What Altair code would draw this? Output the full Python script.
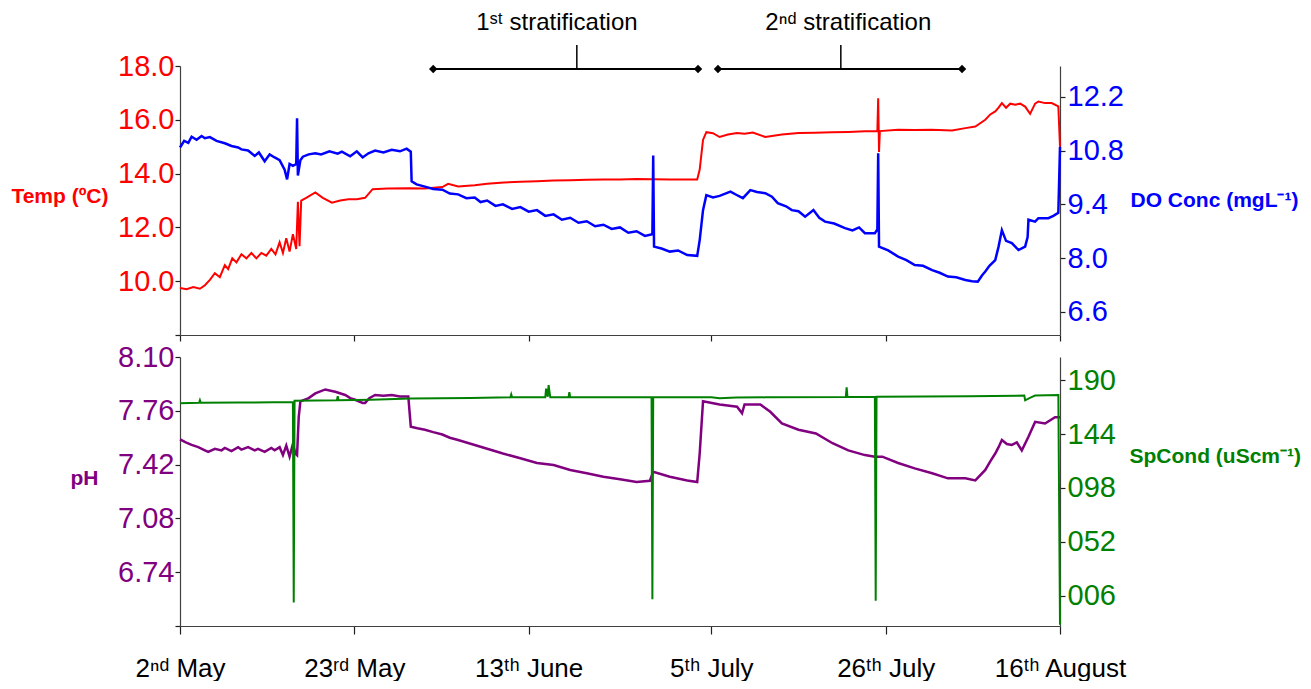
import altair as alt
import pandas as pd

# x positions are days counted from 2 May
tick_days = [0, 21, 42, 64, 85, 106]
tick_labels = ["2ⁿᵈ May", "23ʳᵈ May", "13ᵗʰ June", "5ᵗʰ July", "26ᵗʰ July", "16ᵗʰ August"]

# Water temperature (ºC)
temp_days = [0, 0.8, 1.6, 2.4, 3.0, 3.6, 4.2, 4.8, 5.4, 5.8, 6.3, 6.8, 7.4, 8.0, 8.6, 9.2, 9.8,
             10.4, 11.0, 11.5, 12.0, 12.4, 12.8, 13.2, 13.6, 14.0, 14.2, 14.4, 14.6, 15.2, 16.3,
             17.2, 18.3, 19.3, 20.3, 21.3, 22.3, 23.2, 25.0, 27.5, 29.5, 31.6, 32.3, 33.5, 35.5,
             37.0, 39.0, 41.0, 43.0, 45.0, 47.0, 49.0, 51.0, 53.0, 55.0, 57.0, 59.0, 61.0, 62.3,
             62.6, 63.0, 63.4, 64.2, 65.0, 66.0, 67.1, 68.0, 69.0, 70.5, 72.5, 74.5, 76.5, 78.5,
             80.5, 82.5, 84.0, 84.1, 84.2, 84.3, 86.5, 88.5, 90.5, 93.0, 94.6, 95.8, 97.0, 97.6,
             98.2, 98.6, 99.0, 99.5, 100.0, 100.6, 101.2, 101.8, 102.4, 103.0, 103.4, 104.2,
             105.0, 105.8, 106.0]
temp_vals = [9.75, 9.70, 9.78, 9.72, 9.85, 10.05, 10.30, 10.15, 10.60, 10.45, 10.85, 10.70,
             11.00, 10.85, 11.05, 10.85, 11.05, 10.95, 11.20, 11.00, 11.45, 11.05, 11.60, 11.10,
             11.75, 11.20, 12.95, 11.30, 13.00, 13.10, 13.30, 13.10, 12.92, 13.00, 13.05, 13.05,
             13.10, 13.42, 13.45, 13.46, 13.45, 13.50, 13.62, 13.52, 13.57, 13.62, 13.67, 13.70,
             13.72, 13.74, 13.75, 13.77, 13.78, 13.78, 13.80, 13.79, 13.78, 13.78, 13.78, 14.15,
             15.25, 15.54, 15.50, 15.36, 15.45, 15.51, 15.48, 15.53, 15.36, 15.45, 15.51, 15.52,
             15.54, 15.55, 15.57, 15.58, 16.80, 14.80, 15.58, 15.63, 15.62, 15.63, 15.60, 15.69,
             15.75, 16.00, 16.20, 16.31, 16.45, 16.62, 16.45, 16.60, 16.56, 16.60, 16.49, 16.22,
             16.60, 16.68, 16.62, 16.62, 16.50, 15.00]

# Dissolved oxygen (mg/L), (day, value)
do_points = [
    (0, 10.88), (0.5, 11.05), (1.0, 11.00), (1.4, 11.16), (2.0, 11.08), (2.6, 11.18),
    (3.0, 11.12), (3.6, 11.15), (4.4, 11.05), (5.4, 10.99), (6.2, 10.92), (7.0, 10.88),
    (7.4, 10.83), (8.2, 10.80), (9.0, 10.66), (9.5, 10.75), (10.2, 10.52), (10.8, 10.70),
    (11.4, 10.62), (12.0, 10.55), (12.6, 10.30), (12.9, 10.05), (13.2, 10.45), (13.6, 10.40),
    (14.0, 10.45), (14.1, 11.64), (14.2, 10.15), (14.5, 10.55), (14.8, 10.64), (15.5, 10.70),
    (16.3, 10.73), (17.0, 10.70), (18.0, 10.78), (19.0, 10.72), (19.5, 10.77), (20.5, 10.65),
    (21.3, 10.78), (22.0, 10.62), (22.7, 10.73), (23.5, 10.80), (24.5, 10.75), (25.5, 10.82),
    (26.5, 10.78), (27.3, 10.85), (27.8, 10.77),
    (27.9, 10.00), (28.5, 9.92), (29.5, 9.86), (30.5, 9.80), (31.6, 9.78), (32.5, 9.68),
    (33.5, 9.66), (34.5, 9.56), (35.5, 9.58), (36.2, 9.46), (37.0, 9.50), (38.0, 9.36),
    (38.9, 9.40), (40.0, 9.28), (41.0, 9.33), (42.0, 9.21), (43.0, 9.25), (44.0, 9.10),
    (45.0, 9.14), (46.0, 9.00), (47.0, 9.05), (48.0, 8.92), (49.0, 8.96), (50.0, 8.83),
    (51.0, 8.87), (52.0, 8.76), (53.0, 8.80), (54.0, 8.66), (55.0, 8.70), (56.0, 8.58),
    (56.9, 8.62),
    (57.0, 10.67), (57.1, 8.30), (58.0, 8.25), (59.0, 8.17), (60.0, 8.20), (61.1, 8.08),
    (62.3, 8.06), (62.6, 8.47), (63.0, 9.25), (63.4, 9.64), (64.2, 9.58), (65.0, 9.62),
    (66.3, 9.73), (67.0, 9.65), (67.8, 9.56), (68.7, 9.77), (69.5, 9.72), (70.5, 9.69),
    (71.3, 9.60), (72.0, 9.43), (73.0, 9.35), (73.7, 9.25), (74.5, 9.22), (75.3, 9.08),
    (76.3, 9.25), (77.0, 9.05), (77.7, 8.95), (78.8, 8.90), (80.1, 8.78), (81.0, 8.72),
    (81.8, 8.80), (82.5, 8.65), (83.7, 8.65), (84.0, 8.75), (84.1, 10.73), (84.2, 8.30),
    (85.3, 8.20), (86.5, 8.04), (87.5, 7.95), (88.5, 7.82), (89.5, 7.80), (90.6, 7.69),
    (91.5, 7.62), (92.5, 7.52), (93.5, 7.50), (94.6, 7.43), (95.4, 7.40), (96.1, 7.39),
    (96.6, 7.55), (97.0, 7.65), (97.5, 7.80), (98.2, 7.95), (98.6, 8.30), (99.0, 8.73),
    (99.5, 8.45), (100.2, 8.39), (101.0, 8.21), (101.8, 8.30), (102.1, 8.55), (102.2, 9.00),
    (103.0, 8.95), (103.4, 9.04), (104.6, 9.04), (105.2, 9.10), (105.8, 9.18), (106.0, 10.90),
]

# pH
ph_days = [0, 0.7, 1.4, 2.2, 3.0, 3.4, 4.2, 5.0, 5.4, 6.2, 7.0, 7.4, 8.2, 9.0, 9.4, 10.2, 11.0,
           11.4, 12.0, 12.4, 12.8, 13.2, 13.6, 13.9, 14.1, 14.3, 14.5, 15.5, 16.3, 17.5, 18.7,
           19.9, 20.5, 21.1, 22.0, 22.3, 22.8, 23.5, 24.5, 25.5, 26.5, 27.5, 27.8, 28.6, 29.5,
           30.5, 31.6, 32.5, 33.5, 34.5, 35.5, 37.0, 38.9, 41.0, 43.0, 45.0, 47.0, 49.0, 51.0,
           53.0, 55.0, 56.6, 57.0, 59.0, 61.1, 62.3, 62.6, 63.0, 65.0, 67.1, 67.7, 68.0, 69.9,
           71.1, 72.5, 74.5, 76.6, 78.6, 80.5, 82.5, 83.7, 84.6, 86.5, 88.5, 90.6, 92.5, 94.6,
           95.8, 97.0, 97.6, 98.2, 98.6, 99.0, 99.6, 100.2, 100.8, 101.4, 102.2, 103.0, 104.2,
           105.4, 106.0]
ph_vals = [7.58, 7.56, 7.545, 7.53, 7.51, 7.50, 7.52, 7.51, 7.525, 7.505, 7.53, 7.515, 7.53,
           7.51, 7.52, 7.50, 7.525, 7.51, 7.53, 7.48, 7.54, 7.47, 7.55, 7.49, 7.48, 7.72, 7.82,
           7.84, 7.87, 7.895, 7.88, 7.86, 7.84, 7.83, 7.81, 7.81, 7.84, 7.86, 7.855, 7.86, 7.85,
           7.85, 7.66, 7.65, 7.64, 7.625, 7.61, 7.59, 7.575, 7.56, 7.544, 7.52, 7.49, 7.46,
           7.43, 7.417, 7.386, 7.365, 7.343, 7.327, 7.31, 7.318, 7.375, 7.343, 7.32, 7.31,
           7.49, 7.82, 7.80, 7.786, 7.744, 7.80, 7.80, 7.754, 7.68, 7.64, 7.617, 7.555, 7.51,
           7.48, 7.47, 7.47, 7.43, 7.396, 7.365, 7.333, 7.333, 7.32, 7.386, 7.44, 7.49, 7.53,
           7.575, 7.55, 7.544, 7.56, 7.51, 7.596, 7.69, 7.68, 7.72, 7.72]

# Specific conductance (uS/cm)
sc_days = [0, 2.3, 2.4, 2.5, 7.0, 13.6, 13.7, 13.8, 18.9, 19.0, 19.1, 23.0, 27.8, 35.0, 39.8,
           39.9, 40.0, 44.0, 44.1, 44.3, 44.4, 44.6, 46.8, 46.9, 47.0, 56.8, 56.9, 57.0, 64.0,
           65.0, 67.0, 70.5, 80.2, 80.3, 80.4, 83.7, 83.8, 83.9, 95.0, 101.7, 101.8, 102.5,
           103.0, 105.8, 106.0]
sc_vals = [170.5, 170.8, 173.0, 170.8, 171.0, 171.5, 0.0, 172.5, 173.0, 176.5, 173.0, 173.5,
           174.5, 175.0, 175.5, 178.0, 175.5, 175.5, 183.0, 176.0, 186.0, 175.5, 175.5, 180.0,
           175.5, 175.5, 2.8, 175.5, 175.5, 174.7, 175.3, 175.5, 175.8, 184.0, 175.8, 176.0,
           1.6, 176.0, 176.5, 177.0, 173.0, 175.5, 177.0, 177.5, -19.0]

# Stratification periods (days) and where each caption sits
strat_labels = ["1ˢᵗ stratification", "2ⁿᵈ stratification"]
strat_start = [30.5, 64.8]
strat_end = [62.4, 94.2]
strat_mid = [47.8, 79.6]
strat_caption_day = [45.4, 80.5]

RED, BLUE, PURPLE, GREEN = "#ff0000", "#0000ff", "#800080", "#008000"
FONT = "Liberation Sans, Arial, sans-serif"
W, H = 880, 269

temp_df = pd.DataFrame({"day": temp_days, "v": temp_vals})
do_df = pd.DataFrame(do_points, columns=["day", "v"])
ph_df = pd.DataFrame({"day": ph_days, "v": ph_vals})
sc_df = pd.DataFrame({"day": sc_days, "v": sc_vals})
strat_df = pd.DataFrame({"label": strat_labels, "start": strat_start, "end": strat_end,
                         "mid": strat_mid, "cap": strat_caption_day})
ends_df = pd.DataFrame({"day": strat_start + strat_end})

xscale = alt.Scale(domain=[0, 106], nice=False, zero=False)
label_expr = ("[" + ", ".join("'%s'" % s for s in tick_labels) + "][indexof(["
              + ", ".join(str(d) for d in tick_days) + "], datum.value)]")

axis_common = dict(grid=False, domainColor="#404040", tickColor="#202020", domainWidth=1.2,
                   tickWidth=1.2, labelFont=FONT, labelFontSize=29, titleFont=FONT,
                   titleFontSize=21, titleFontWeight="bold", titleAngle=0,
                   titleBaseline="middle", labelOverlap=False)

top_x_axis = alt.Axis(values=tick_days, labels=False, tickSize=6, title=None, grid=False,
                      domainColor="#404040", tickColor="#202020", domainWidth=1.2, tickWidth=1.2)
bot_x_axis = alt.Axis(values=tick_days, labelExpr=label_expr, tickSize=8, title=None, grid=False,
                      domainColor="#404040", tickColor="#202020", domainWidth=1.2, tickWidth=1.2,
                      labelFont=FONT, labelFontSize=26, labelColor="black", labelPadding=21,
                      labelOverlap=False, labelFlush=False)


def xenc(field, axis):
    return alt.X(field, type="quantitative", scale=xscale, axis=axis)


temp_line = alt.Chart(temp_df).mark_line(color=RED, strokeWidth=2.0).encode(
    x=xenc("day", top_x_axis),
    y=alt.Y("v:Q", scale=alt.Scale(domain=[8, 18], nice=False, zero=False),
            axis=alt.Axis(orient="left", values=[8, 10, 12, 14, 16, 18],
                          labelExpr="datum.value == 8 ? '' : format(datum.value, '.1f')",
                          labelColor=RED, tickSize=5, labelPadding=1,
                          title="Temp (ºC)", titleColor=RED, titleAlign="right",
                          titleX=-72, titleY=130, **axis_common)),
)
do_line = alt.Chart(do_df).mark_line(color=BLUE, strokeWidth=2.5).encode(
    x=xenc("day", top_x_axis),
    y=alt.Y("v:Q", scale=alt.Scale(domain=[6, 13], nice=False, zero=False),
            axis=alt.Axis(orient="right", values=[6.6, 8.0, 9.4, 10.8, 12.2], format=".1f",
                          labelColor=BLUE, tickSize=5, labelPadding=2,
                          title="DO Conc (mgL⁻¹)", titleColor=BLUE, titleAlign="left",
                          titleX=70, titleY=134, **axis_common)),
)

bracket = alt.Chart(strat_df).mark_rule(color="black", strokeWidth=2).encode(
    x=xenc("start", top_x_axis), x2="end:Q", y=alt.value(3))
bracket_tick = alt.Chart(strat_df).mark_rule(color="black", strokeWidth=1.5).encode(
    x=xenc("mid", top_x_axis), y=alt.value(-21), y2=alt.value(3))
bracket_ends = alt.Chart(ends_df).mark_point(shape="diamond", filled=True, color="black",
                                             size=70, opacity=1).encode(
    x=xenc("day", top_x_axis), y=alt.value(3))
bracket_text = alt.Chart(strat_df).mark_text(font=FONT, fontSize=24, color="black",
                                             baseline="middle", align="center").encode(
    x=xenc("cap", top_x_axis), y=alt.value(-43), text="label:N")

top = alt.layer(temp_line, do_line, bracket, bracket_tick, bracket_ends, bracket_text).resolve_scale(
    y="independent").properties(width=W, height=H)

ph_line = alt.Chart(ph_df).mark_line(color=PURPLE, strokeWidth=2.5).encode(
    x=xenc("day", bot_x_axis),
    y=alt.Y("v:Q", scale=alt.Scale(domain=[6.40, 8.10], nice=False, zero=False),
            axis=alt.Axis(orient="left", values=[6.40, 6.74, 7.08, 7.42, 7.76, 8.10],
                          labelExpr="datum.value < 6.5 ? '' : format(datum.value, '.2f')",
                          labelColor=PURPLE, tickSize=5, labelPadding=1,
                          title="pH", titleColor=PURPLE, titleAlign="right",
                          titleX=-82, titleY=121, **axis_common)),
)
sc_line = alt.Chart(sc_df).mark_line(color=GREEN, strokeWidth=2.0).encode(
    x=xenc("day", bot_x_axis),
    y=alt.Y("v:Q", scale=alt.Scale(domain=[-20, 210], nice=False, zero=False),
            axis=alt.Axis(orient="right", values=[6, 52, 98, 144, 190],
                          labelExpr="format(datum.value, '03d')",
                          labelColor=GREEN, tickSize=5, labelPadding=2,
                          title="SpCond (uScm⁻¹)", titleColor=GREEN, titleAlign="left",
                          titleX=69, titleY=99, **axis_common)),
)

bottom = alt.layer(ph_line, sc_line).resolve_scale(y="independent").properties(width=W, height=H)

chart = alt.vconcat(top, bottom, spacing=22, bounds="flush").properties(
    padding={"left": 10, "top": 11, "right": 5, "bottom": 0}, background="white"
).configure_view(strokeWidth=0, stroke="transparent")

chart.save("out.html", embed_options={"renderer": "svg", "actions": False})
